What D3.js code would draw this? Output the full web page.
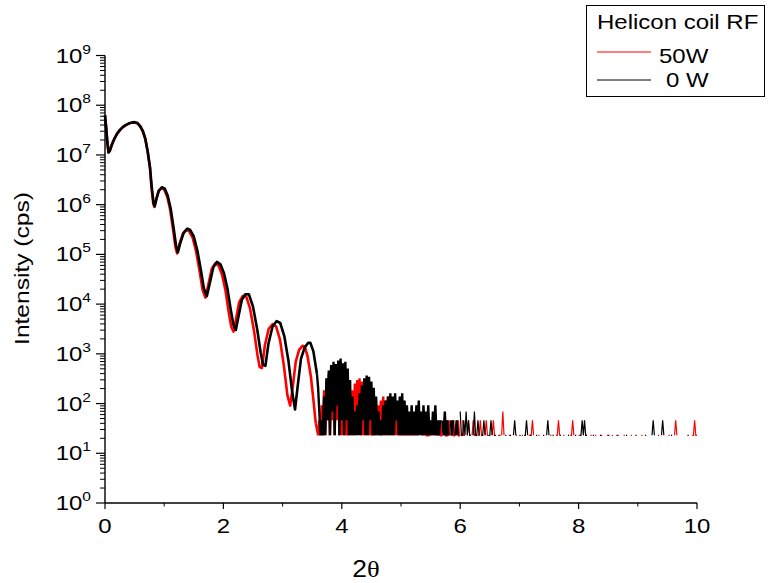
<!DOCTYPE html>
<html>
<head>
<meta charset="utf-8">
<script src="https://cdn.jsdelivr.net/npm/d3@7"></script>
<style>
body { margin: 0; background: #fff; }
text { font-family: Arial, "Liberation Sans", sans-serif; fill: #000; }
</style>
</head>
<body>
<svg id="chart" width="768" height="583"></svg>
<script>
// fringe part of the reflectivity curves: 2theta (deg) and intensity (cps)
var angle0W = [0.00,0.02,0.04,0.06,0.08,0.12,0.16,0.20,0.25,0.30,
    0.35,0.40,0.45,0.50,0.55,0.60,0.64,0.68,0.72,0.76,
    0.79,0.82,0.84,0.87,0.91,0.96,1.01,1.06,1.11,1.16,
    1.20,1.23,1.27,1.33,1.39,1.44,1.50,1.56,1.62,1.67,
    1.72,1.77,1.83,1.89,1.95,2.01,2.07,2.12,2.17,2.21,
    2.25,2.31,2.37,2.43,2.50,2.57,2.63,2.67,2.71,2.76,
    2.83,2.90,2.96,3.03,3.10,3.16,3.21,3.25,3.31,3.37,
    3.43,3.47,3.52,3.58];
var cps0W = [6.31e7,3.55e7,1.78e7,1.12e7,1.20e7,1.66e7,2.14e7,2.63e7,3.16e7,3.63e7,
    3.98e7,4.27e7,4.47e7,4.57e7,4.37e7,3.72e7,3.02e7,2.14e7,1.20e7,5.62e6,
    2.24e6,1.07e6,9.3e5,1.32e6,1.91e6,2.24e6,2.09e6,1.51e6,8.3e5,3.31e5,
    1.51e5,1.10e5,1.66e5,2.75e5,3.31e5,3.09e5,2.29e5,1.20e5,4.79e4,2.09e4,
    1.45e4,2.63e4,5.50e4,7.08e4,6.31e4,4.17e4,2.00e4,8.3e3,3.80e3,3.02e3,
    5.25e3,1.20e4,1.58e4,1.58e4,8.9e3,3.16e3,1.05e3,603,575,1.58e3,
    3.55e3,4.57e3,4.17e3,2.24e3,708,178,76,200,794,1.32e3,
    1.66e3,1.66e3,1.12e3,398];

var angle50W = [0.00,0.02,0.04,0.06,0.08,0.12,0.16,0.20,0.25,0.30,
    0.35,0.40,0.45,0.50,0.55,0.60,0.64,0.68,0.72,0.76,
    0.785,0.815,0.834,0.864,0.903,0.953,1.002,1.051,1.10,1.149,
    1.188,1.218,1.257,1.316,1.375,1.423,1.482,1.541,1.599,1.648,
    1.696,1.745,1.803,1.861,1.92,1.978,2.036,2.084,2.132,2.171,
    2.21,2.267,2.325,2.383,2.45,2.517,2.575,2.613,2.651,2.699,
    2.766,2.833,2.89,2.957,3.023,3.08,3.128,3.166,3.222,3.279,
    3.336,3.374,3.421,3.477,3.52,3.56];
var cps50W = [6.31e7,3.55e7,1.78e7,1.12e7,1.20e7,1.66e7,2.14e7,2.63e7,3.16e7,3.63e7,
    3.98e7,4.27e7,4.47e7,4.50e7,4.30e7,3.65e7,2.95e7,2.10e7,1.18e7,5.5e6,
    2.2e6,1.05e6,9.0e5,1.28e6,1.85e6,2.15e6,2.0e6,1.45e6,8.0e5,3.2e5,
    1.45e5,1.05e5,1.6e5,2.6e5,3.1e5,2.9e5,2.15e5,1.12e5,4.5e4,1.95e4,
    1.35e4,2.45e4,5.1e4,6.6e4,5.9e4,3.9e4,1.85e4,7.6e3,3.5e3,2.8e3,
    4.8e3,1.1e4,1.45e4,1.45e4,8.2e3,2.9e3,9.5e2,540,520,1.45e3,
    3.2e3,3.98e3,3.55e3,1.9e3,560,150,91,190,700,1.2e3,
    1.45e3,1.4e3,9.0e2,355,120,40];

// noisy tail read as detector counts, 0.02 deg steps from 3.60 to 10.00 (0 = no point)
var tailStart = 3.6, tailStep = 0.02, cpsPerCount = 23, denseEnd = 6.0;
var counts0W = [9,3,1,2,1,6,1,14,2,20, 1,26,3,30,1,27,4,32,1,35,
    2,28,1,30,2,22,1,13,1,6, 1,3,1,4,1,7,1,10,2,14,
    1,16,1,15,2,12,1,9,1,6, 1,3,1,2,1,4,1,5,1,6,
    1,7,1,6,1,7,2,5,1,6, 1,7,1,5,1,4,1,3,1,4,
    1,3,1,4,1,5,1,3,1,4, 1,3,1,4,1,2,1,3,1,4,
    1,2,1,2,0,2,1,3,1,2, 1,0,2,1,2,0,1,2,1,0,
    3,1,1,2,1,3,1,2,1,1, 0,1,3,1,1,2,1,0,1,1,
    2,1,0,0,1,1,2,1,0,1, 1,0,0,1,1,0,0,0,1,1,
    0,0,1,1,0,1,2,1,0,0, 1,1,0,0,1,1,2,1,0,1,
    1,0,0,0,1,1,0,0,0,0, 1,1,0,1,2,1,0,0,1,1,
    0,0,0,0,1,1,0,0,0,0, 0,1,1,0,0,0,0,1,1,0,
    0,1,1,2,1,2,1,1,0,0, 0,0,1,1,0,0,0,0,1,1,
    0,0,0,0,0,1,1,0,0,0, 0,0,1,1,0,0,0,0,0,0,
    1,1,0,0,0,0,0,0,1,1, 0,0,0,0,0,0,1,1,0,0,
    0,0,1,2,1,0,0,0,0,0, 1,2,1,0,0,0,0,0,1,1,
    0,0,0,0,0,0,0,0,0,0, 0,0,1,1,0,0,0,0,0,0,
    0];
var counts50W = [1,2,1,4,1,8,1,12,2,17, 1,21,2,22,1,20,2,17,1,12,
    1,7,1,3,1,2,1,5,1,8, 1,11,1,13,2,14,1,12,1,9,
    1,6,1,4,1,2,1,2,1,3, 1,4,1,5,1,6,1,5,1,6,
    1,4,1,5,1,3,1,4,1,2, 1,3,1,2,1,3,1,2,1,3,
    1,2,1,3,1,2,0,2,1,3, 1,2,1,1,2,1,0,2,1,2,
    1,0,1,2,1,1,0,2,1,1, 2,1,0,1,2,1,1,0,2,1,
    1,0,2,1,1,0,1,2,1,0, 1,2,1,1,0,1,1,2,1,1,
    0,1,2,1,1,0,0,1,2,1, 1,0,1,1,0,1,3,1,0,0,
    0,1,1,0,0,0,0,1,1,0, 0,0,1,1,0,0,0,0,1,1,
    1,2,1,0,0,0,1,1,0,0, 0,0,0,0,0,0,1,1,0,0,
    0,1,1,2,1,0,0,1,1,0, 0,0,0,1,1,2,1,0,0,0,
    1,1,0,0,0,0,1,1,0,0, 1,1,0,0,1,1,0,0,0,1,
    1,0,0,0,1,1,0,0,1,1, 0,0,0,1,1,0,0,0,1,1,
    0,0,0,0,1,1,0,0,0,0, 0,0,0,1,1,0,0,0,0,0,
    0,0,0,0,0,0,0,1,1,0, 0,0,0,0,0,0,1,1,0,0,
    0,1,2,1,0,0,0,0,0,0, 0,0,0,0,0,0,1,1,2,1,
    1];

var xTicks = [0, 2, 4, 6, 8, 10];
var xMinorTicks = [1, 3, 5, 7, 9];
var yExponents = [0, 1, 2, 3, 4, 5, 6, 7, 8, 9];
var legendTitle = "Helicon coil RF";
var seriesNames = ["50W", "0 W"];
var seriesColors = ["#ff0000", "#000000"];

var svg = d3.select("#chart");
var x = d3.scaleLinear().domain([0, 10]).range([105, 697]);
var y = d3.scaleLog().domain([1, 1e9]).range([503, 55.5]);

// text in the original is a bit wider than plain Arial
function stretchText(g, tx, ty, size, anchor, sx) {
    return g.append("text")
        .attr("transform", "translate(" + tx + "," + ty + ") scale(" + sx + ",1)")
        .attr("font-size", size)
        .attr("text-anchor", anchor);
}

function makeSeries(angles, cps, counts) {
    var smooth = angles.map(function(a, i) { return [a, cps[i]]; });
    var tail = counts.map(function(c, i) { return [tailStart + i * tailStep, c * cpsPerCount]; });
    var cut = Math.round((denseEnd - tailStart) / tailStep);
    return {
        smooth: smooth,
        dense: [smooth[smooth.length - 1]].concat(tail.slice(0, cut + 1)),
        sparse: tail.slice(cut)
    };
}

var series = [makeSeries(angle50W, cps50W, counts50W), makeSeries(angle0W, cps0W, counts0W)];

var line = d3.line()
    .defined(function(d) { return d[1] > 0; })
    .x(function(d) { return x(d[0]); })
    .y(function(d) { return y(d[1]); });

series.forEach(function(s, i) {
    svg.append("path")
        .attr("d", line(s.sparse))
        .attr("fill", "none")
        .attr("stroke", seriesColors[i])
        .attr("stroke-width", 1.2);
    svg.append("path")
        .attr("d", line(s.dense))
        .attr("fill", "none")
        .attr("stroke", seriesColors[i])
        .attr("stroke-width", 2.4);
    svg.append("path")
        .attr("d", line(s.smooth))
        .attr("fill", "none")
        .attr("stroke", seriesColors[i])
        .attr("stroke-width", 2.6)
        .attr("stroke-linejoin", "round");
});

// y axis (log)
var yMinor = [];
yExponents.slice(0, -1).forEach(function(e) {
    for (var m = 2; m <= 9; m++) yMinor.push(m * Math.pow(10, e));
});
var axes = svg.append("g").attr("stroke", "#000");
axes.append("line").attr("x1", 105).attr("x2", 105).attr("y1", y(1e9)).attr("y2", y(1)).attr("stroke-width", 1.4);
axes.append("line").attr("x1", 105).attr("x2", 697).attr("y1", y(1)).attr("y2", y(1)).attr("stroke-width", 1.4);
axes.selectAll(".ymaj").data(yExponents).enter().append("line")
    .attr("x1", 96).attr("x2", 105)
    .attr("y1", function(e) { return y(Math.pow(10, e)); })
    .attr("y2", function(e) { return y(Math.pow(10, e)); })
    .attr("stroke-width", 1.2);
axes.selectAll(".ymin").data(yMinor).enter().append("line")
    .attr("x1", 100).attr("x2", 105)
    .attr("y1", function(v) { return y(v); })
    .attr("y2", function(v) { return y(v); })
    .attr("stroke-width", 1);
axes.selectAll(".xmaj").data(xTicks).enter().append("line")
    .attr("x1", function(v) { return x(v); }).attr("x2", function(v) { return x(v); })
    .attr("y1", y(1)).attr("y2", y(1) + 6)
    .attr("stroke-width", 1.2);
axes.selectAll(".xmin").data(xMinorTicks).enter().append("line")
    .attr("x1", function(v) { return x(v); }).attr("x2", function(v) { return x(v); })
    .attr("y1", y(1)).attr("y2", y(1) + 3.5)
    .attr("stroke-width", 1);

yExponents.forEach(function(e) {
    var t = stretchText(svg, 91, y(Math.pow(10, e)) + 7, 20, "end", 1.2);
    t.append("tspan").text("10");
    t.append("tspan").attr("font-size", 13).attr("dy", -9).text(e);
});
xTicks.forEach(function(v) {
    stretchText(svg, x(v), 533, 20, "middle", 1.2).text(v);
});

// axis titles
var xt = stretchText(svg, 366, 577, 24, "middle", 1.1);
xt.append("tspan").text("2");
xt.append("tspan").attr("font-family", "'Liberation Serif', serif").text("\u03b8");

svg.append("text")
    .attr("transform", "translate(28.5,268.5) rotate(-90) scale(1.17,1)")
    .attr("font-size", 21)
    .attr("text-anchor", "middle")
    .text("Intensity (cps)");

// legend
var lg = svg.append("g");
lg.append("rect").attr("x", 586.5).attr("y", 5.5).attr("width", 178).attr("height", 91)
    .attr("fill", "#fff").attr("stroke", "#000").attr("stroke-width", 1);
stretchText(lg, 597, 29, 20, "start", 1.2).text(legendTitle);
var legendY = [52, 80], legendTextX = [659, 666], legendTextY = [63, 87];
seriesNames.forEach(function(name, i) {
    lg.append("line").attr("x1", 597).attr("x2", 651)
        .attr("y1", legendY[i]).attr("y2", legendY[i])
        .attr("stroke", seriesColors[i]).attr("stroke-width", 1);
    stretchText(lg, legendTextX[i], legendTextY[i], 20, "start", 1.2).text(name);
});
</script>
</body>
</html>
